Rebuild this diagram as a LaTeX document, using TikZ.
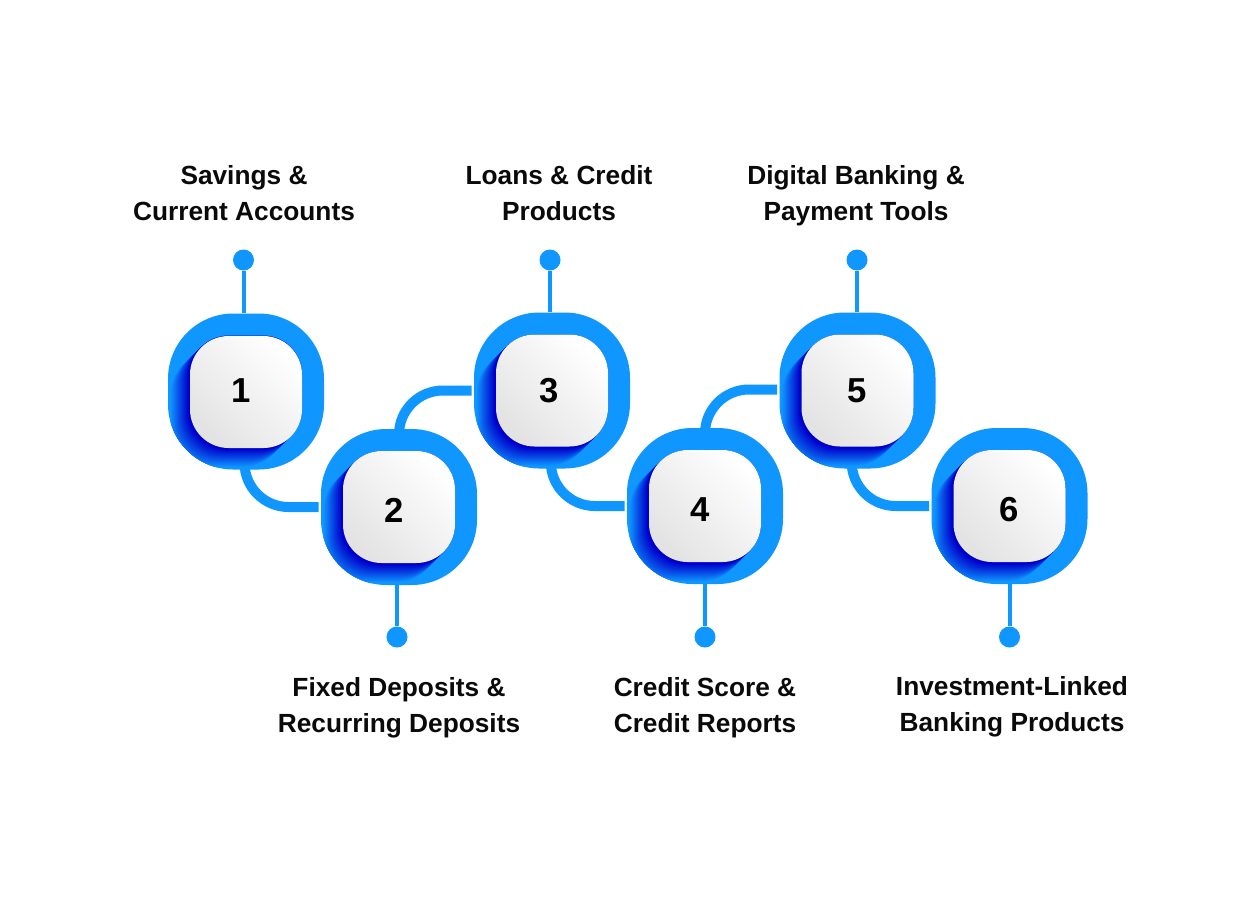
\documentclass[tikz,border=0pt]{standalone}
\usepackage{fontspec}
\setmainfont{Liberation Sans}
\newfontfamily\lblfont{Liberation Sans Bold}
\definecolor{ringblue}{HTML}{0F97FF}
\definecolor{deepblue}{HTML}{0000CC}
\definecolor{inklabel}{HTML}{0A0A0A}
\pgfdeclarelayer{backdrop}
\pgfdeclarelayer{linklayer}
\pgfsetlayers{backdrop,linklayer,main}
\newcommand{\ringshadow}{%
  \foreach \k in {20,19,...,0}{%
    \pgfmathsetmacro{\pct}{min(100,100*max(\k-2,0)/18)}%
    \fill[ringblue!\pct!deepblue, rounded corners=29pt]
      ([xshift=-42pt-0.75pt*\k,yshift=-42pt-0.75pt*\k]path picture bounding box.center)
      rectangle ([xshift=42pt-0.75pt*\k,yshift=42pt-0.75pt*\k]path picture bounding box.center);
  }%
}
\tikzset{
  x=0.75pt, y=-0.75pt,
  ringbox/.style={rectangle, rounded corners=49pt, minimum size=117pt, inner sep=0pt,
    fill=ringblue, path picture={\ringshadow}},
  numbox/.style={rectangle, rounded corners=29pt, minimum size=84pt, inner sep=0pt,
    top color=white, bottom color=white!89!black, shading angle=-45},
  digit/.style={inner sep=0pt, text=black, font=\lblfont\fontsize{26pt}{30pt}\selectfont},
  enddot/.style={circle, fill=ringblue, minimum size=15.75pt, inner sep=0pt},
  stem/.style={draw=ringblue, line width=3pt},
  link/.style={draw=ringblue, line width=7.5pt, rounded corners=33pt, shorten >=1.5pt},
  caption/.style={align=center, text=inklabel, inner sep=0pt,
    font=\lblfont\fontsize{19.7pt}{27pt}\selectfont},
}
\begin{document}
\begin{tikzpicture}
\useasboundingbox (0,0) rectangle (1260,904);
\begin{pgfonlayer}{backdrop}
\fill[white] (0,0) rectangle (1260,904);
\end{pgfonlayer}
% end dots
\node[enddot] (d1) at (243.5,260) {};
\node[enddot] (d2) at (397,637) {};
\node[enddot] (d3) at (550,260) {};
\node[enddot] (d4) at (705,637) {};
\node[enddot] (d5) at (857,260) {};
\node[enddot] (d6) at (1009.5,637) {};
% outer rings
\node[ringbox] (b1) at (246,391.5) {};
\node[ringbox] (b2) at (399,507) {};
\node[ringbox] (b3) at (552,390.5) {};
\node[ringbox] (b4) at (705,506) {};
\node[ringbox] (b5) at (857.5,390.5) {};
\node[ringbox] (b6) at (1009.5,506) {};
% inner plates
\node[numbox] (n1) at (246,392) {};
\node[numbox] (n2) at (399,507) {};
\node[numbox] (n3) at (552,390.5) {};
\node[numbox] (n4) at (705,506) {};
\node[numbox] (n5) at (857.5,390.5) {};
\node[numbox] (n6) at (1009.5,506) {};
% digits
\node[digit] (g1) at (241,391) {1};
\node[digit] (g2) at (394,510) {2};
\node[digit] (g3) at (549,391) {3};
\node[digit] (g4) at (700,510) {4};
\node[digit] (g5) at (857,391) {5};
\node[digit] (g6) at (1009,510) {6};
% stems
\draw[stem] (d1) -- (d1 |- b1.north);
\draw[stem] (d2) -- (d2 |- b2.south);
\draw[stem] (d3) -- (d3 |- b3.north);
\draw[stem] (d4) -- (d4 |- b4.south);
\draw[stem] (d5) -- (d5 |- b5.north);
\draw[stem] (d6) -- (d6 |- b6.south);
% links
\begin{pgfonlayer}{linklayer}
\draw[link] ([xshift=-1.1pt,yshift=12pt]b1.south) |- (b2.west);
\draw[link] ([yshift=-12pt]b2.north) |- (b3.west);
\draw[link] ([xshift=-0.9pt,yshift=12pt]b3.south) |- (b4.west);
\draw[link] ([yshift=-12pt]b4.north) |- ([yshift=.75pt]b5.west);
\draw[link] ([xshift=-4.4pt,yshift=12pt]b5.south) |- (b6.west);
\end{pgfonlayer}
% captions
\node[caption] (t1) at (244,193) {Savings \&\\Current Accounts};
\node[caption] (t2) at (399,708) {Fixed Deposits \&\\Recurring Deposits};
\node[caption] (t3) at (559,193) {Loans \& Credit\\Products};
\node[caption] (t4) at (705,707.5) {Credit Score \&\\Credit Reports};
\node[caption] (t5) at (856,196) {Digital Banking \&\\Payment Tools};
\node[caption] (t6) at (1012,707) {Investment-Linked\\Banking Products};
\end{tikzpicture}
\end{document}
